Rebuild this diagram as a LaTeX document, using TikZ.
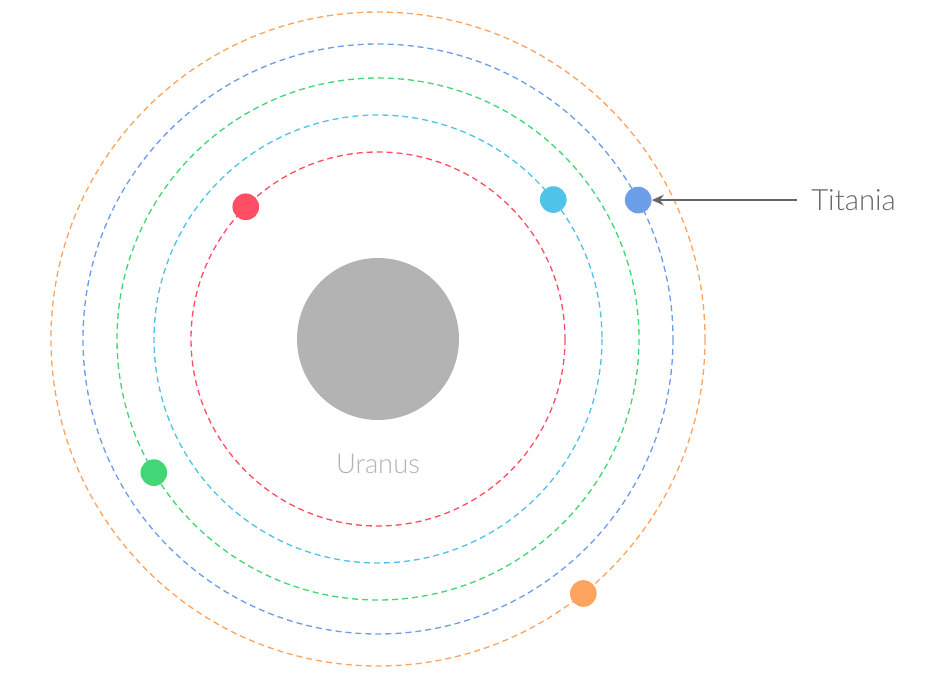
\documentclass[tikz,border=0pt]{standalone}
\usepackage{fontspec}
\setmainfont{Lato}[UprightFont=* Light]
\usetikzlibrary{arrows.meta,positioning,calc}
\definecolor{moonred}{HTML}{FF4F64}
\definecolor{mooncyan}{HTML}{4FC3E8}
\definecolor{moonblue}{HTML}{6D9EE8}
\definecolor{moongreen}{HTML}{43D677}
\definecolor{moonorange}{HTML}{FFA45F}
\definecolor{planetgray}{HTML}{B3B3B3}
\tikzstyle{every node}=[font=\fontsize{20.5}{22}\selectfont]
\tikzstyle{orbit}=[line width=1pt,dash pattern=on 4.5pt off 3pt]
\tikzstyle{moon}=[circle,inner sep=0pt,minimum size=20pt]

\begin{document}
\begin{tikzpicture}[x=0.75pt,y=-0.75pt]
  \useasboundingbox (0,0) rectangle (929,675);
  \node[circle,fill=planetgray,minimum size=121.5pt,inner sep=0pt] (uranus) at (378,339) {};
  \node[text=planetgray] (uranuslabel) at (378,464) {Uranus};
  % orbits
  \foreach \rr/\cc in {187/moonred,224/mooncyan,261/moongreen,295/moonblue,327/moonorange}
   {
    \draw[orbit,\cc] (uranus.center) circle[radius=\rr];
   }
  % moons
  \node[moon,fill=moonred] (miranda) at ($(uranus.center)+(135:187 and -187)$) {};
  \node[moon,fill=mooncyan] (ariel) at ($(uranus.center)+(38.5:224 and -224)$) {};
  \node[moon,fill=moongreen] (umbriel) at ($(uranus.center)+(210.8:261 and -261)$) {};
  \node[moon,fill=moonblue] (titania) at ($(uranus.center)+(28.1:295 and -295)$) {};
  \node[moon,fill=moonorange] (oberon) at ($(uranus.center)+(-51.1:327 and -327)$) {};
  % label
  \node[text=black!60,anchor=west,inner xsep=10.5pt,font=\fontsize{22}{24}\selectfont] (titanialabel) at (titania.center -| 797,0) {Titania};
  \draw[-{Stealth[length=9pt,width=8pt]},black!60,line width=1.2pt] (titanialabel.west) -- (titania.east);
\end{tikzpicture}
\end{document}
